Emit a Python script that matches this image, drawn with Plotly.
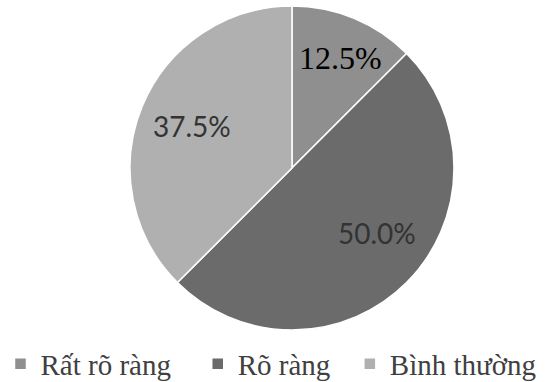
import math
import plotly.graph_objects as go

labels = ["Rất rõ ràng", "Rõ ràng", "Bình thường"]
values = [12.5, 50.0, 37.5]
text_labels = ["12.5%", "50.0%", "37.5%"]

# styles
colors = ["#8f8f8f", "#6b6b6b", "#b0b0b0"]
label_fonts = ["Liberation Serif", "Lato", "Lato"]
label_sizes = [32, 28, 28]
label_colors = ["#000000", "#333333", "#333333"]
label_radius = [0.74, 0.66, 0.67]
label_angle_shift = [1.5, -7.5, 0.0]
legend_pads = ["\u00a0\u00a0\u00a0", "\u00a0\u00a0", ""]

W, H = 546, 382
cx, cy, R = 292, 168, 162

legend_labels = [l + p for l, p in zip(labels, legend_pads)]

fig = go.Figure(go.Pie(
    labels=legend_labels,
    values=values,
    textinfo="none",
    sort=False,
    direction="clockwise",
    rotation=0,
    marker=dict(colors=colors, line=dict(color="white", width=1.5)),
    domain=dict(x=[(cx - R) / W, (cx + R) / W], y=[1 - (cy + R) / H, 1 - (cy - R) / H]),
    hoverinfo="skip",
))

total = sum(values)
cum = 0.0
for i, v in enumerate(values):
    mid = (cum + v / 2) / total * 360 + label_angle_shift[i]
    cum += v
    a = math.radians(mid)
    px = cx + R * label_radius[i] * math.sin(a)
    py = cy - R * label_radius[i] * math.cos(a)
    fig.add_annotation(
        x=px / W, y=1 - py / H, xref="paper", yref="paper",
        text=text_labels[i], showarrow=False,
        xanchor="center", yanchor="middle",
        font=dict(family=label_fonts[i], size=label_sizes[i], color=label_colors[i]),
    )

fig.update_layout(
    width=W, height=H,
    margin=dict(l=0, r=0, t=0, b=0, autoexpand=False),
    paper_bgcolor="white",
    showlegend=True,
    legend=dict(
        orientation="h", x=271 / W, xanchor="center", y=1 - 364 / H, yanchor="middle",
        font=dict(family="Liberation Serif, Times New Roman, serif", size=29, color="#404040"),
        traceorder="normal",
    ),
)

fig.write_html("out.html")
